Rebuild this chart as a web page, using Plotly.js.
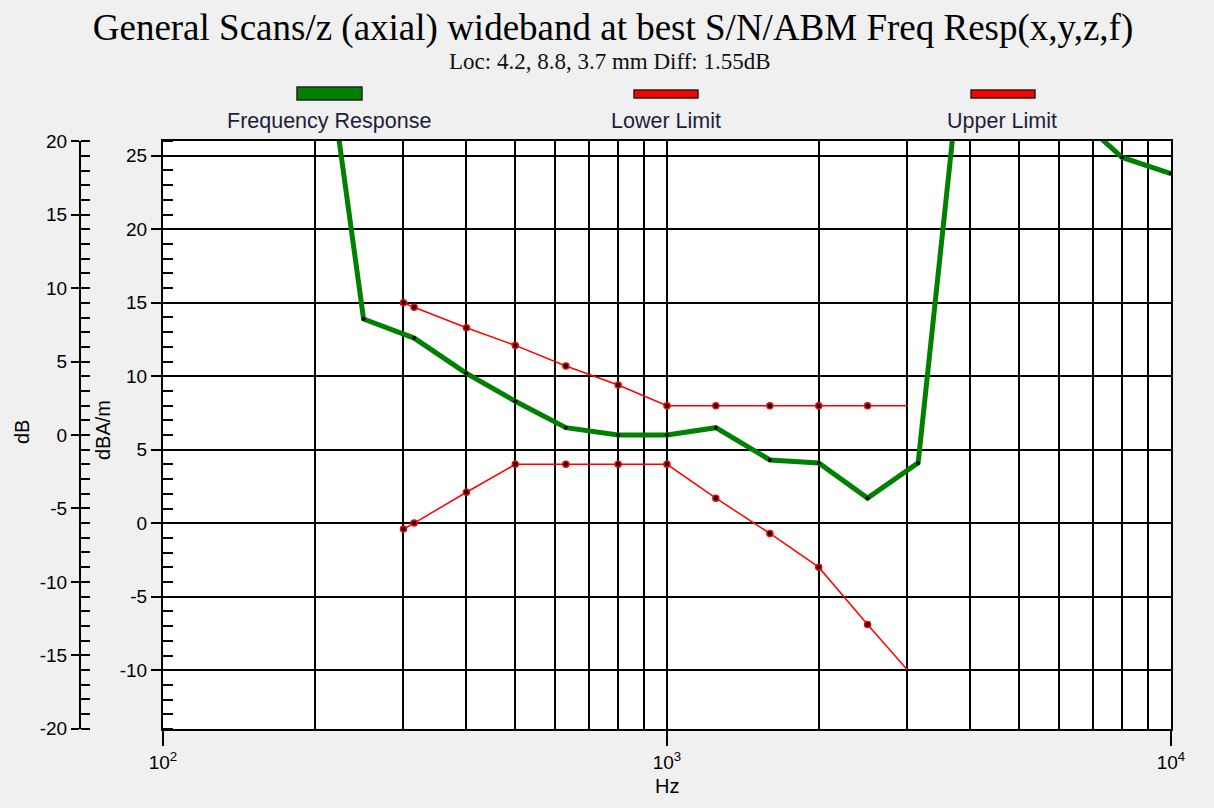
<!DOCTYPE html>
<html>
<head>
<meta charset="utf-8">
<script src="https://cdn.plot.ly/plotly-3.0.1.min.js"></script>
<style>html,body{margin:0;padding:0;background:#f0f0f0;}#chart{width:1214px;height:808px;}</style>
</head>
<body>
<div id="chart"></div>
<script>
// ---- data ----
const respFreq = [200, 250, 315, 400, 500, 630, 800, 1000, 1250, 1600, 2000, 2500, 3150, 4000, 5000, 6300, 8000, 10000];
const respDb   = [32.2, 7.9, 6.6, 4.2, 2.3, 0.5, 0.0, 0.0, 0.5, -1.7, -1.9, -4.3, -1.9, 31.7, 28.0, 22.1, 18.9, 17.8];
const limFreq  = [300, 315, 400, 500, 630, 800, 1000, 1250, 1600, 2000, 2500, 3000];
const upperDb  = [9.0, 8.7, 7.3, 6.1, 4.7, 3.4, 2.0, 2.0, 2.0, 2.0, 2.0, 2.0];
const lowerDb  = [-6.4, -6.0, -3.9, -2.0, -2.0, -2.0, -2.0, -4.3, -6.7, -9.0, -12.9, -16.0];
const xMajorVals = [100, 1000, 10000];
const xMajorText = ['10<sup>2</sup>', '10<sup>3</sup>', '10<sup>4</sup>'];
const xMinorVals = [200, 300, 400, 500, 600, 700, 800, 900, 2000, 3000, 4000, 5000, 6000, 7000, 8000, 9000];
const dbTicks    = [-20, -15, -10, -5, 0, 5, 10, 15, 20];
const dbamTicks  = [-10, -5, 0, 5, 10, 15, 20, 25];
const legendNames = ['Frequency Response', 'Lower Limit', 'Upper Limit'];

// ---- layout helpers (pixel -> paper) ----
const W = 1214, H = 808, ML = 60, MR = 43, MT = 141, MB = 79;
const PW = W - ML - MR, PH = H - MT - MB;
const px = x => (x - ML) / PW;
const py = y => (H - MB - y) / PH;

const GREEN = '#008000', RED = '#ff0000';
const sans = 'Liberation Sans, Arial, sans-serif';
const serif = 'Liberation Serif, Times New Roman, serif';

const traces = [
  // empty trace so the dBA/m axis (with the grid) is drawn
  {x: [], y: [], xaxis: 'x', yaxis: 'y', mode: 'lines', showlegend: false, hoverinfo: 'skip'},
  {x: limFreq, y: upperDb, name: legendNames[2], mode: 'lines', xaxis: 'x', yaxis: 'y2',
   line: {color: RED, width: 1.5}, showlegend: false, hoverinfo: 'skip'},
  {x: limFreq.slice(0, -1), y: upperDb.slice(0, -1), mode: 'markers', xaxis: 'x', yaxis: 'y2',
   marker: {color: '#000', size: 6, line: {color: RED, width: 1.5}}, showlegend: false, hoverinfo: 'skip'},
  {x: limFreq, y: lowerDb, name: legendNames[1], mode: 'lines', xaxis: 'x', yaxis: 'y2',
   line: {color: RED, width: 1.5}, showlegend: false, hoverinfo: 'skip'},
  {x: limFreq.slice(0, -1), y: lowerDb.slice(0, -1), mode: 'markers', xaxis: 'x', yaxis: 'y2',
   marker: {color: '#000', size: 6, line: {color: RED, width: 1.5}}, showlegend: false, hoverinfo: 'skip'},
  {x: respFreq, y: respDb, name: legendNames[0], mode: 'lines+markers', xaxis: 'x', yaxis: 'y2',
   line: {color: GREEN, width: 5}, marker: {color: '#000', size: 4}, showlegend: false, hoverinfo: 'skip'}
];

const swatches = [
  {x0: 297, x1: 362, y0: 87, y1: 100, c: GREEN},
  {x0: 634, x1: 698, y0: 90, y1: 98, c: RED},
  {x0: 971, x1: 1035, y0: 90, y1: 98, c: RED}
];
const labelX = [329, 666, 1002];

const shapes = swatches.map(s => ({
  type: 'rect', xref: 'paper', yref: 'paper',
  x0: px(s.x0), x1: px(s.x1), y0: py(s.y1), y1: py(s.y0),
  fillcolor: s.c, line: {color: '#222', width: 1.5}, layer: 'above'
}));

const annotations = legendNames.map((n, i) => ({
  text: n, xref: 'paper', yref: 'paper', x: px(labelX[i]), y: py(121),
  xanchor: 'center', yanchor: 'middle', showarrow: false,
  font: {family: sans, size: 21.5, color: '#1e1e3c'}
}));
annotations.push(
  {text: 'Loc: 4.2, 8.8, 3.7 mm Diff: 1.55dB', xref: 'paper', yref: 'paper', x: px(610), y: py(61),
   xanchor: 'center', yanchor: 'middle', showarrow: false, font: {family: serif, size: 23, color: '#111'}},
  {text: 'dB', xref: 'paper', yref: 'paper', x: px(22), y: py(432), textangle: -90,
   xanchor: 'center', yanchor: 'middle', showarrow: false, font: {family: sans, size: 20, color: '#000'}},
  {text: 'dBA/m', xref: 'paper', yref: 'paper', x: px(103), y: py(430), textangle: -90,
   xanchor: 'center', yanchor: 'middle', showarrow: false, font: {family: sans, size: 20, color: '#000'}},
  {text: 'Hz', xref: 'paper', yref: 'paper', x: px(667), y: py(786),
   xanchor: 'center', yanchor: 'middle', showarrow: false, font: {family: sans, size: 20, color: '#000'}}
);

const layout = {
  width: W, height: H,
  margin: {l: ML, r: MR, t: MT, b: MB},
  paper_bgcolor: '#f0f0f0', plot_bgcolor: '#ffffff',
  showlegend: false,
  title: {text: 'General Scans/z (axial) wideband at best S/N/ABM Freq Resp(x,y,z,f)',
          font: {family: serif, size: 37, color: '#000'},
          xref: 'paper', x: px(613), xanchor: 'center',
          yref: 'container', y: 1 - 27 / H, yanchor: 'middle'},
  xaxis: {
    type: 'log', range: [2, 4], domain: [px(163), 1],
    tickmode: 'array', tickvals: xMajorVals, ticktext: xMajorText,
    ticks: 'outside', ticklen: 15, tickwidth: 2, tickcolor: '#000',
    tickfont: {family: sans, size: 19, color: '#000'},
    showgrid: true, gridcolor: '#000', gridwidth: 2,
    minor: {tickmode: 'array', tickvals: xMinorVals, showgrid: true, gridcolor: '#000', gridwidth: 2, ticks: ''},
    showline: true, linecolor: '#000', linewidth: 2, mirror: true,
    zeroline: false, fixedrange: true
  },
  yaxis: {
    range: [-14, 26], anchor: 'x',
    tickmode: 'array', tickvals: dbamTicks, ticktext: dbamTicks.map(String),
    ticks: 'outside', ticklen: 10, tickwidth: 2, tickcolor: '#000',
    tickfont: {family: sans, size: 19, color: '#000'},
    showgrid: true, gridcolor: '#000', gridwidth: 2,
    minor: {tickmode: 'linear', tick0: 0, dtick: 1, ticks: 'inside', ticklen: 10, tickwidth: 2, tickcolor: '#000', showgrid: false},
    showline: true, linecolor: '#000', linewidth: 2, mirror: true,
    zeroline: false, fixedrange: true
  },
  yaxis2: {
    overlaying: 'y', anchor: 'free', position: px(80), side: 'left',
    range: [-20.02, 20.02],
    tickmode: 'array', tickvals: dbTicks, ticktext: dbTicks.map(String),
    ticks: 'outside', ticklen: 8, tickwidth: 2, tickcolor: '#000',
    tickfont: {family: sans, size: 19, color: '#000'},
    showgrid: false,
    minor: {tickmode: 'linear', tick0: 0, dtick: 1, ticks: 'inside', ticklen: 9, tickwidth: 2, tickcolor: '#000', showgrid: false},
    showline: true, linecolor: '#000', linewidth: 2,
    zeroline: false, fixedrange: true
  },
  shapes: shapes,
  annotations: annotations
};

Plotly.newPlot('chart', traces, layout, {displayModeBar: false, staticPlot: true});
</script>
</body>
</html>
